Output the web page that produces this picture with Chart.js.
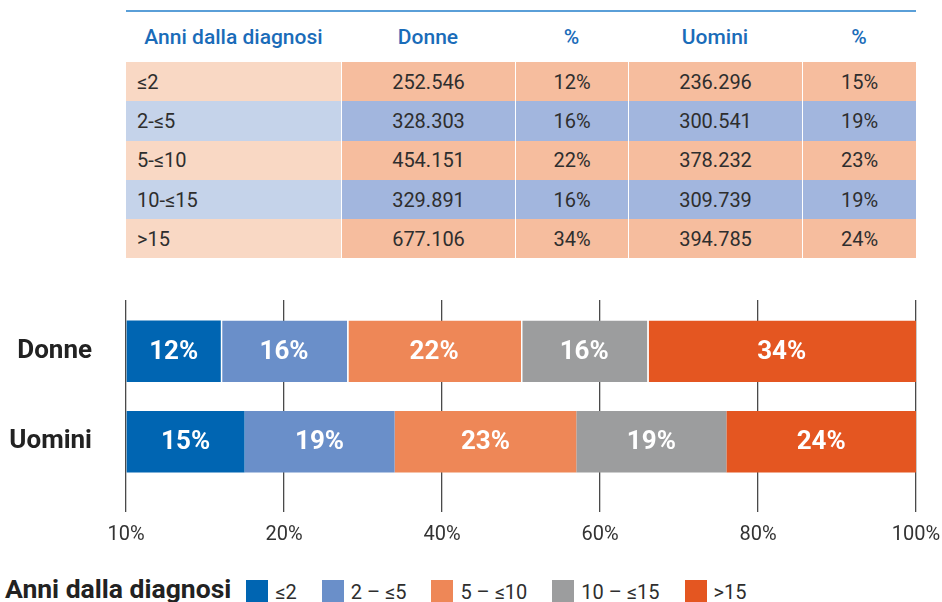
<!DOCTYPE html>
<html>
<head>
<meta charset="utf-8">
<script src="https://cdn.jsdelivr.net/npm/chart.js@4.4.0/dist/chart.umd.min.js"></script>
<style>
  body { margin: 0; width: 942px; height: 602px; background: #fff; overflow: hidden; position: relative; font-family: Roboto, sans-serif; }
  #tbl { position: absolute; left: 126px; top: 10px; width: 790px; border-collapse: separate; border-spacing: 0; table-layout: fixed; border-top: 2px solid #5a9fd8; }
  #tbl th { height: 50px; font-weight: 500; font-size: 21px; color: #1a6cb9; text-align: center; padding: 0; }
  #tbl td { height: 39.3px; font-size: 20px; color: #2e2e2e; text-align: center; padding: 0; border-left: 1.5px solid #fff; }
  #tbl td.first { text-align: left; padding-left: 11px; border-left: none; }
  #chartWrap { position: absolute; left: 0; top: 300px; }
  #legend { position: absolute; left: 5px; top: 574px; display: flex; align-items: flex-start; white-space: nowrap; }
  #legend .title { font-weight: 700; font-size: 26.5px; color: #222; line-height: 30px; margin-right: 15px; }
  #legend .box { width: 22px; height: 24px; margin-top: 6px; margin-right: 7px; }
  #legend .lab { font-size: 20px; color: #2e2e2e; line-height: 30px; margin-top: 3px; margin-right: 25px; }
</style>
</head>
<body>
<table id="tbl">
  <colgroup><col style="width:215px"><col style="width:174px"><col style="width:113px"><col style="width:174px"><col style="width:114px"></colgroup>
  <thead><tr id="headRow"></tr></thead>
  <tbody id="tbody"></tbody>
</table>
<div id="chartWrap"><canvas id="myChart" width="942" height="257"></canvas></div>
<div id="legend"></div>
<script>
// data
const categories = ['Donne', 'Uomini'];
const headers = ['Anni dalla diagnosi', 'Donne', '%', 'Uomini', '%'];
const bandLabels = ['≤2', '2-≤5', '5-≤10', '10-≤15', '>15'];
const legendLabels = ['≤2', '2 – ≤5', '5 – ≤10', '10 – ≤15', '>15'];
const donneCounts = [252546, 328303, 454151, 329891, 677106];
const uominiCounts = [236296, 300541, 378232, 309739, 394785];
const donnePct = [12, 16, 22, 16, 34];
const uominiPct = [15, 19, 23, 19, 24];
const tickLabels = ['10%', '20%', '40%', '60%', '80%', '100%'];
const legendTitle = 'Anni dalla diagnosi';

const barColors = ['#0065b2', '#6a8fc9', '#ee8757', '#9c9d9e', '#e45621'];
const rowLight = ['#f9d8c4', '#c5d3ea'];
const rowDark = ['#f6bd9e', '#a2b6de'];

const fmt = n => n.toString().replace(/\B(?=(\d{3})+(?!\d))/g, '.');

// table
const headRow = document.getElementById('headRow');
headers.forEach(h => {
    const th = document.createElement('th');
    th.textContent = h;
    headRow.appendChild(th);
});
const tbody = document.getElementById('tbody');
bandLabels.forEach((band, i) => {
    const tr = document.createElement('tr');
    const cells = [band, fmt(donneCounts[i]), donnePct[i] + '%', fmt(uominiCounts[i]), uominiPct[i] + '%'];
    cells.forEach((c, j) => {
        const td = document.createElement('td');
        td.textContent = c;
        if (j === 0) td.className = 'first';
        td.style.background = j === 0 ? rowLight[i % 2] : rowDark[i % 2];
        tr.appendChild(td);
    });
    tbody.appendChild(tr);
});

// legend
const legend = document.getElementById('legend');
legend.innerHTML = `<span class="title">${legendTitle}</span>` +
    legendLabels.map((l, i) => `<span class="box" style="background:${barColors[i]}"></span><span class="lab">${l}</span>`).join('');

// labels inside bars
const barLabels = {
    id: 'barLabels',
    afterDatasetsDraw(chart) {
        const ctx = chart.ctx;
        ctx.save();
        ctx.font = 'bold 26px Roboto';
        ctx.fillStyle = '#fff';
        ctx.textAlign = 'center';
        ctx.textBaseline = 'middle';
        chart.data.datasets.forEach((ds, di) => {
            chart.getDatasetMeta(di).data.forEach((el, i) => {
                const p = el.getCenterPoint();
                ctx.fillText(ds.data[i] + '%', p.x, p.y + 1);
            });
        });
        ctx.restore();
    }
};

const ctx = document.getElementById('myChart').getContext('2d');
new Chart(ctx, {
    type: 'bar',
    data: {
        labels: categories,
        datasets: legendLabels.map((l, i) => ({
            label: l,
            data: [donnePct[i], uominiPct[i]],
            backgroundColor: barColors[i],
            borderColor: '#fff',
            borderSkipped: false,
            borderWidth: c => (c.dataIndex === 0 && c.datasetIndex > 0) ? { left: 1.5, right: 0, top: 0, bottom: 0 } : 0,
            categoryPercentage: 1,
            barPercentage: 0.68
        }))
    },
    options: {
        indexAxis: 'y',
        responsive: false,
        animation: false,
        layout: { padding: { left: 0, right: 26, top: 0, bottom: 0 } },
        plugins: {
            legend: { display: false },
            tooltip: { enabled: false }
        },
        scales: {
            x: {
                stacked: true,
                min: 0,
                max: 100,
                position: 'bottom',
                border: { display: false },
                grid: { color: '#4a4a4a', lineWidth: 1.3, tickLength: 25 },
                ticks: {
                    stepSize: 20,
                    padding: 11,
                    color: '#333',
                    font: { family: 'Roboto', size: 20 },
                    callback: (v, i) => tickLabels[i]
                },
                afterFit: s => { s.height = 70; s.paddingLeft = 0; s.paddingRight = 0; }
            },
            x2: {
                type: 'linear',
                min: 0,
                max: 100,
                position: 'top',
                border: { display: false },
                grid: { color: '#4a4a4a', lineWidth: 1.3, tickLength: 6, drawOnChartArea: false },
                ticks: { stepSize: 20, display: false },
                afterFit: s => { s.paddingLeft = 0; s.paddingRight = 0; }
            },
            y: {
                stacked: true,
                border: { display: false },
                grid: { display: false },
                ticks: {
                    padding: 26,
                    color: '#222',
                    font: { family: 'Roboto', size: 26, weight: 'bold' }
                },
                afterFit: s => { s.width = 126; s.paddingTop = 0; s.paddingBottom = 0; }
            }
        }
    },
    plugins: [barLabels]
});
</script>
</body>
</html>
